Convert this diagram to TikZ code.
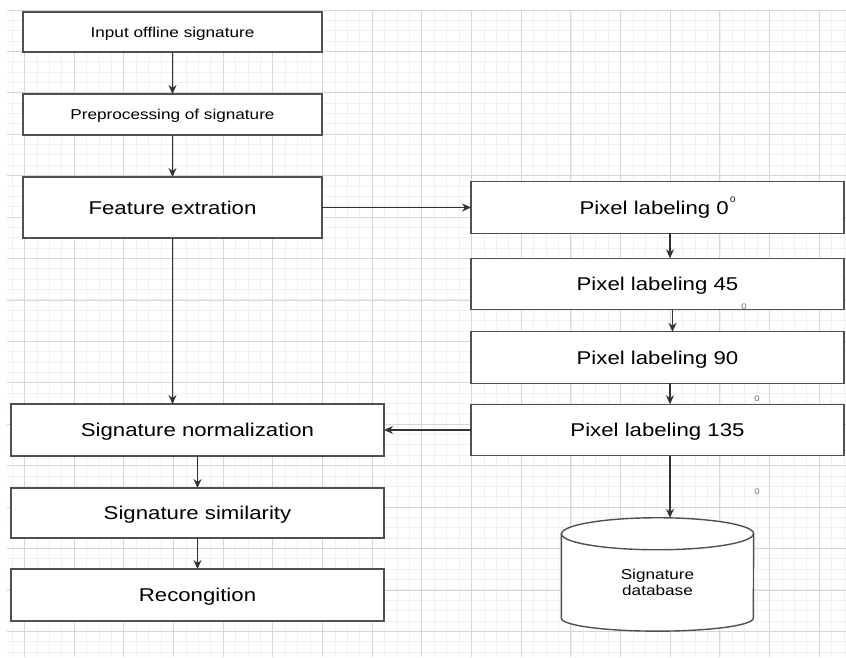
\documentclass[tikz,border=0pt]{standalone}
\usepackage{fontspec}
\setmainfont[FakeStretch=1.2]{Liberation Sans}
\usepackage{tikz}
\usetikzlibrary{positioning, arrows.meta, backgrounds}

\definecolor{gridminor}{HTML}{F0F0F0}
\definecolor{gridmajor}{HTML}{D6D6D6}
\definecolor{boxline}{HTML}{505050}
\definecolor{markgray}{HTML}{707070}

\begin{document}
\begin{tikzpicture}[
    x=1pt, y=-1pt,
    box/.style={
        draw=boxline,
        rectangle,
        line width=1.4pt,
        fill=white,
        align=center,
        inner sep=0pt,
        outer sep=0pt
    },
    smallbox/.style={
        box,
        font=\fontsize{14.3}{17}\selectfont,
        text height=10.2pt,
        text depth=0pt
    },
    bigbox/.style={
        box,
        font=\fontsize{18.5}{22}\selectfont,
        text height=13.2pt,
        text depth=0pt
    },
    degmark/.style={
        text=markgray,
        font=\fontsize{8}{8}\selectfont,
        inner sep=0pt
    },
    arrow/.style={-{Stealth[length=9pt, width=8pt]}, line width=1.2pt, draw=black!80}
]

\useasboundingbox (0,0) rectangle (846,657);

% Grid paper behind everything (snapped to whole pixels)
\begin{scope}[on background layer]
    \fill[white] (0,0) rectangle (846,657);
    \foreach \i in {0,...,67}
        \draw[gridminor, line width=1pt] ({int(12.2+12.418*\i)+0.5},10) -- ({int(12.2+12.418*\i)+0.5},657);
    \foreach \j in {0,...,62}
        \draw[gridminor, line width=1pt] (7,{int(10+10.357*\j)+0.5}) -- (846,{int(10+10.357*\j)+0.5});
    \foreach \i in {0,...,16}
        \draw[gridmajor, line width=1.4pt] ({int(24.6+49.67*\i)+0.5},10) -- ({int(24.6+49.67*\i)+0.5},657);
    \foreach \j in {0,...,15}
        \draw[gridmajor, line width=1.4pt] (7,{int(10+41.43*\j)+0.5}) -- (846,{int(10+41.43*\j)+0.5});
\end{scope}

% Left column - input side
\node[smallbox, minimum width=299pt, minimum height=40pt] (input) at (172.5,32) {Input offline signature};
\node[smallbox, minimum width=299pt, minimum height=41pt, below=42pt of input] (prep) {Preprocessing of signature};
\node[bigbox, minimum width=299pt, minimum height=61pt, below=42pt of prep] (feat) {Feature extration};

% Right column - pixel labeling at the four angles
\node[bigbox, minimum width=373pt, minimum height=51.5pt, right=149pt of feat] (px0) {Pixel labeling 0\raisebox{12pt}{\fontsize{8}{8}\selectfont\,0}};
\node[bigbox, minimum width=373pt, minimum height=51.5pt, below=25pt of px0] (px45) {Pixel labeling 45};
\node[bigbox, minimum width=373pt, minimum height=51.5pt, below=22pt of px45] (px90) {Pixel labeling 90};
\node[bigbox, minimum width=373pt, minimum height=51.5pt, below=21pt of px90] (px135) {Pixel labeling 135};

% Stray degree marks
\node[degmark] (deg45) at (744,307) {0};
\node[degmark] (deg90) at (757,399) {0};
\node[degmark] (deg135) at (757,492) {0};

% Bottom left - normalization to recognition
\node[bigbox, minimum width=373pt, minimum height=52pt, left=87pt of px135] (norm) {Signature normalization};
\node[bigbox, minimum width=373pt, minimum height=50pt, below=32pt of norm] (sim) {Signature similarity};
\node[bigbox, minimum width=373pt, minimum height=52pt, below=31pt of sim] (rec) {Recongition};

% Database
\node[align=center, font=\fontsize{14.3}{16.7}\selectfont, minimum width=192pt, minimum height=97pt, inner sep=0pt,
      below=78pt of px135] (db) {Signature\\database};
\begin{scope}[on background layer]
    \draw[boxline, line width=1.4pt, fill=white]
        (db.north west) -- ([yshift=13pt]db.south west)
        arc[start angle=180, end angle=360, x radius=96pt, y radius=13pt]
        -- (db.north east)
        arc[start angle=0, end angle=180, x radius=96pt, y radius=16pt] -- cycle;
    \draw[boxline, line width=1.4pt]
        (db.north west) arc[start angle=180, end angle=360, x radius=96pt, y radius=16pt];
\end{scope}

% Main flow arrows
\draw[arrow] (input) -- (prep);
\draw[arrow] (prep) -- (feat);
\draw[arrow] (feat.east) -- (px0.west);
\draw[arrow] (feat.south) -- (feat.south |- norm.north);

% Pixel labeling chain
\draw[arrow] ([xshift=12.5pt]px0.south) -- ([xshift=12.5pt]px45.north);
\draw[arrow] ([xshift=15pt]px45.south) -- ([xshift=15pt]px90.north);
\draw[arrow] ([xshift=12.5pt]px90.south) -- ([xshift=12.5pt]px135.north);
\draw[arrow] ([xshift=12.5pt]px135.south) -- ([xshift=12.5pt, yshift=16pt]db.north);
\draw[arrow] (px135.west) -- (px135.west -| norm.east);

% Recognition chain
\draw[arrow] (norm) -- (sim);
\draw[arrow] (sim) -- (rec);

\end{tikzpicture}
\end{document}
